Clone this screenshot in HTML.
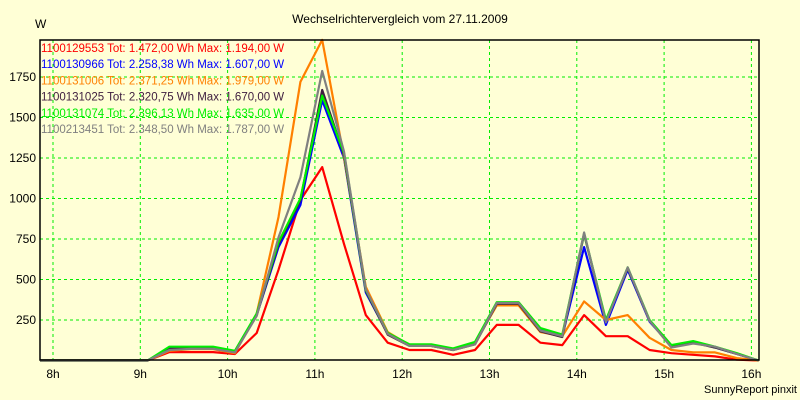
<!DOCTYPE html>
<html><head><meta charset="utf-8"><style>
body{margin:0;background:#ffffd6;}
svg{display:block;font-family:"Liberation Sans",sans-serif;}
</style></head><body>
<svg id="c" width="800" height="400">
<rect width="800" height="400" fill="#ffffd6"/>
<text x="400" y="23" text-anchor="middle" font-size="12" fill="#000">Wechselrichtervergleich vom 27.11.2009</text>
<text x="35" y="28" font-size="12" fill="#000">W</text>
<text x="797" y="393" text-anchor="end" font-size="11" fill="#000">SunnyReport pinxit</text>
<g id="grid"></g><g id="lines"></g><g id="axes"></g><g id="legend"></g>
</svg>
<script>
const hourTicks=[8,9,10,11,12,13,14,15,16];
const yTicks=[250,500,750,1000,1250,1500,1750];
const startHour=8+5/60, stepHour=0.25;
const seriesNames=["1100129553","1100130966","1100131006","1100131025","1100131074","1100213451"];
const seriesTot=["1.472,00","2.258,38","2.371,25","2.320,75","2.396,13","2.348,50"];
const seriesMax=["1.194,00","1.607,00","1.979,00","1.670,00","1.635,00","1.787,00"];
const red=[0,0,0,0,0,52,52,52,40,170,560,990,1194,720,280,110,65,65,35,65,220,220,110,95,280,150,150,65,45,35,25,5,0];
const blue=[0,0,0,0,0,75,78,78,55,280,700,960,1607,1250,420,165,95,95,70,105,350,350,190,150,700,220,560,240,90,115,80,40,0];
const orange=[0,0,0,0,0,60,70,70,45,290,885,1720,1979,1255,455,175,95,90,65,110,340,340,175,150,365,250,280,140,65,50,50,15,0];
const dark=[0,0,0,0,0,72,75,75,52,280,720,990,1670,1270,430,160,90,90,65,100,350,350,180,145,780,240,570,245,85,110,80,40,0];
const green=[0,0,0,0,0,85,85,85,60,290,730,1000,1635,1280,435,170,100,100,75,115,360,360,200,160,785,250,575,250,95,120,85,45,0];
const gray=[0,0,0,0,0,65,72,72,50,275,760,1130,1787,1290,440,165,90,90,65,100,355,355,185,150,790,235,575,245,80,105,85,40,0];
const seriesValues=[red,blue,orange,dark,green,gray];
const colors=["#ff0000","#0000ff","#ff8000","#402040","#00ee00","#808080"];
const L=40,R=759,T=40,B=360;
const xS=h=>53+(h-8)*87.3;
const yS=v=>360.5-v/250*40.5;
const NS="http://www.w3.org/2000/svg";
function mk(t,a,p){const e=document.createElementNS(NS,t);for(const k in a)e.setAttribute(k,a[k]);p.appendChild(e);return e;}
const grid=document.getElementById('grid'),axes=document.getElementById('axes'),lines=document.getElementById('lines'),leg=document.getElementById('legend');
hourTicks.forEach(h=>{
 const g=mk('line',{x1:xS(h),x2:xS(h),y1:T,y2:B,stroke:'#00ee00','stroke-dasharray':'3,3'},grid);
 
 
 const t=mk('text',{x:xS(h),y:378,'text-anchor':'middle','font-size':'12'},axes);t.textContent=h+'h';
 
 
});
yTicks.forEach(v=>{
 const g=mk('line',{x1:L,x2:R,y1:yS(v),y2:yS(v),stroke:'#00ee00','stroke-dasharray':'3,3'},grid);
 
 
 const t=mk('text',{x:36,y:yS(v)+4,'text-anchor':'end','font-size':'12'},axes);t.textContent=v;
 
 
});
const fr=mk('rect',{x:L,y:T,width:R-L,height:B-T,fill:'none',stroke:'#000','stroke-width':1.5},axes);


seriesValues.forEach((arr,i)=>{
 const pts=arr.map((v,k)=>xS(startHour+k*stepHour).toFixed(1)+','+yS(v).toFixed(1));
 pts.unshift(L+','+yS(arr[0]).toFixed(1));
 const p=mk('polyline',{points:pts.join(' '),fill:'none',stroke:colors[i],'stroke-width':2.2,'stroke-linejoin':'round'},lines);
 
 
 const t=mk('text',{x:41,y:52+i*16.2,'font-size':'11.5',fill:colors[i]},leg);
 t.textContent=seriesNames[i]+' Tot: '+seriesTot[i]+' Wh Max: '+seriesMax[i]+' W';
 
 
});
</script>
</body></html>
